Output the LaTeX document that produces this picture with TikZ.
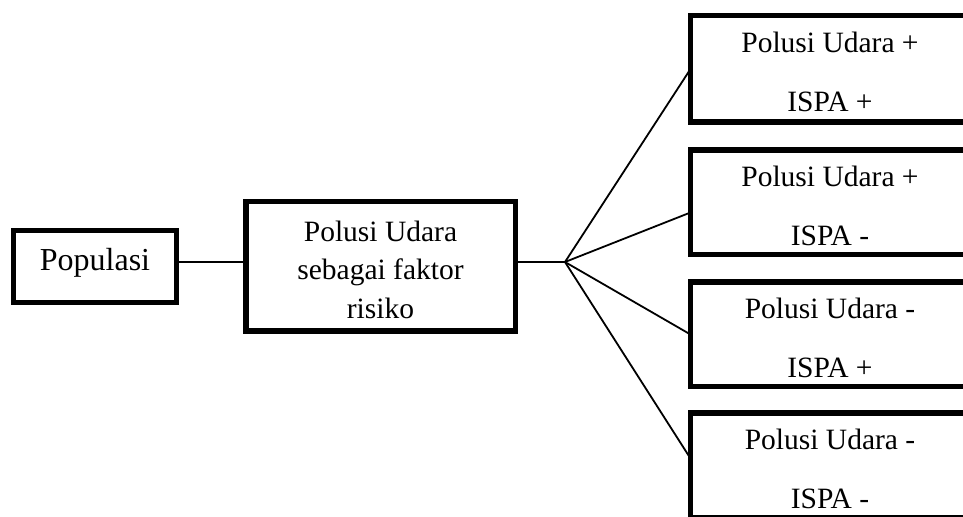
\documentclass[tikz,border=0pt]{standalone}
\usepackage{fontspec}
\setmainfont{Liberation Serif}
\usepackage{tikz}
\usetikzlibrary{positioning, calc}
\newcommand{\PUatas}{\rule{0pt}{13.5pt}}
\tikzset{
  PUBox/.style={draw=black, line width=2.75pt, align=center, inner sep=0pt,
    font=\fontsize{14.75}{19.25}\selectfont},
  PUHasil/.style={align=center, inner sep=0pt, outer sep=0pt,
    minimum width=139.5pt, minimum height=52.25pt,
    font=\fontsize{14.75}{29.5}\selectfont},
  PUTepi/.style={draw=black, line width=2.75pt},
  PULine/.style={draw=black, line width=0.9pt}
}

\begin{document}
\begin{tikzpicture}[x=0.5pt, y=-0.5pt]
    \useasboundingbox (0,0) rectangle (963,517);
    \clip (0,0) rectangle (963,517);
    \node[PUBox, minimum width=81.5pt, minimum height=36pt, text depth=7.5pt,
          font=\fontsize{16}{19}\selectfont] (populasi) at (95,266.5) {Populasi};
    \node[PUBox, minimum width=134.75pt, minimum height=64.75pt] (faktor) at (380.5,266.5)
      {\PUatas Polusi Udara\\sebagai faktor\\risiko};
    \node[PUHasil, minimum height=53.25pt] (pp) at (830,69) {\PUatas Polusi Udara +\\ISPA +};
    \node[PUHasil, below=14pt of pp] (pn) {\PUatas Polusi Udara +\\ISPA -};
    \node[PUHasil, below=13.75pt of pn] (np) {\PUatas Polusi Udara -\\ISPA +};
    \node[PUHasil, below=13.25pt of np] (nn) {\PUatas Polusi Udara -\\ISPA -};
    \draw[PUTepi] ([xshift=20pt]pp.north east) -- (pp.north west) -- (pp.south west) -- ([xshift=20pt]pp.south east);
    \draw[PUTepi] ([xshift=20pt]pn.north east) -- (pn.north west) -- (pn.south west) -- ([xshift=20pt]pn.south east);
    \draw[PUTepi] ([xshift=20pt]np.north east) -- (np.north west) -- (np.south west) -- ([xshift=20pt]np.south east);
    \draw[PUTepi] ([xshift=20pt]nn.north east) -- (nn.north west) -- (nn.south west) -- ([xshift=20pt]nn.south east);
    \coordinate (cabang) at (565,262);
    \draw[PULine] (populasi.east |- cabang) -- (faktor.west |- cabang);
    \draw[PULine] (faktor.east |- cabang) -- (cabang);
    \draw[PULine] (cabang) -- (pp.west);
    \draw[PULine] (cabang) -- ($(pn.west)+(0,-5pt)$);
    \draw[PULine] (cabang) -- (np.west);
    \draw[PULine] (cabang) -- ($(nn.west)+(0,3.5pt)$);
  \end{tikzpicture}
\end{document}
